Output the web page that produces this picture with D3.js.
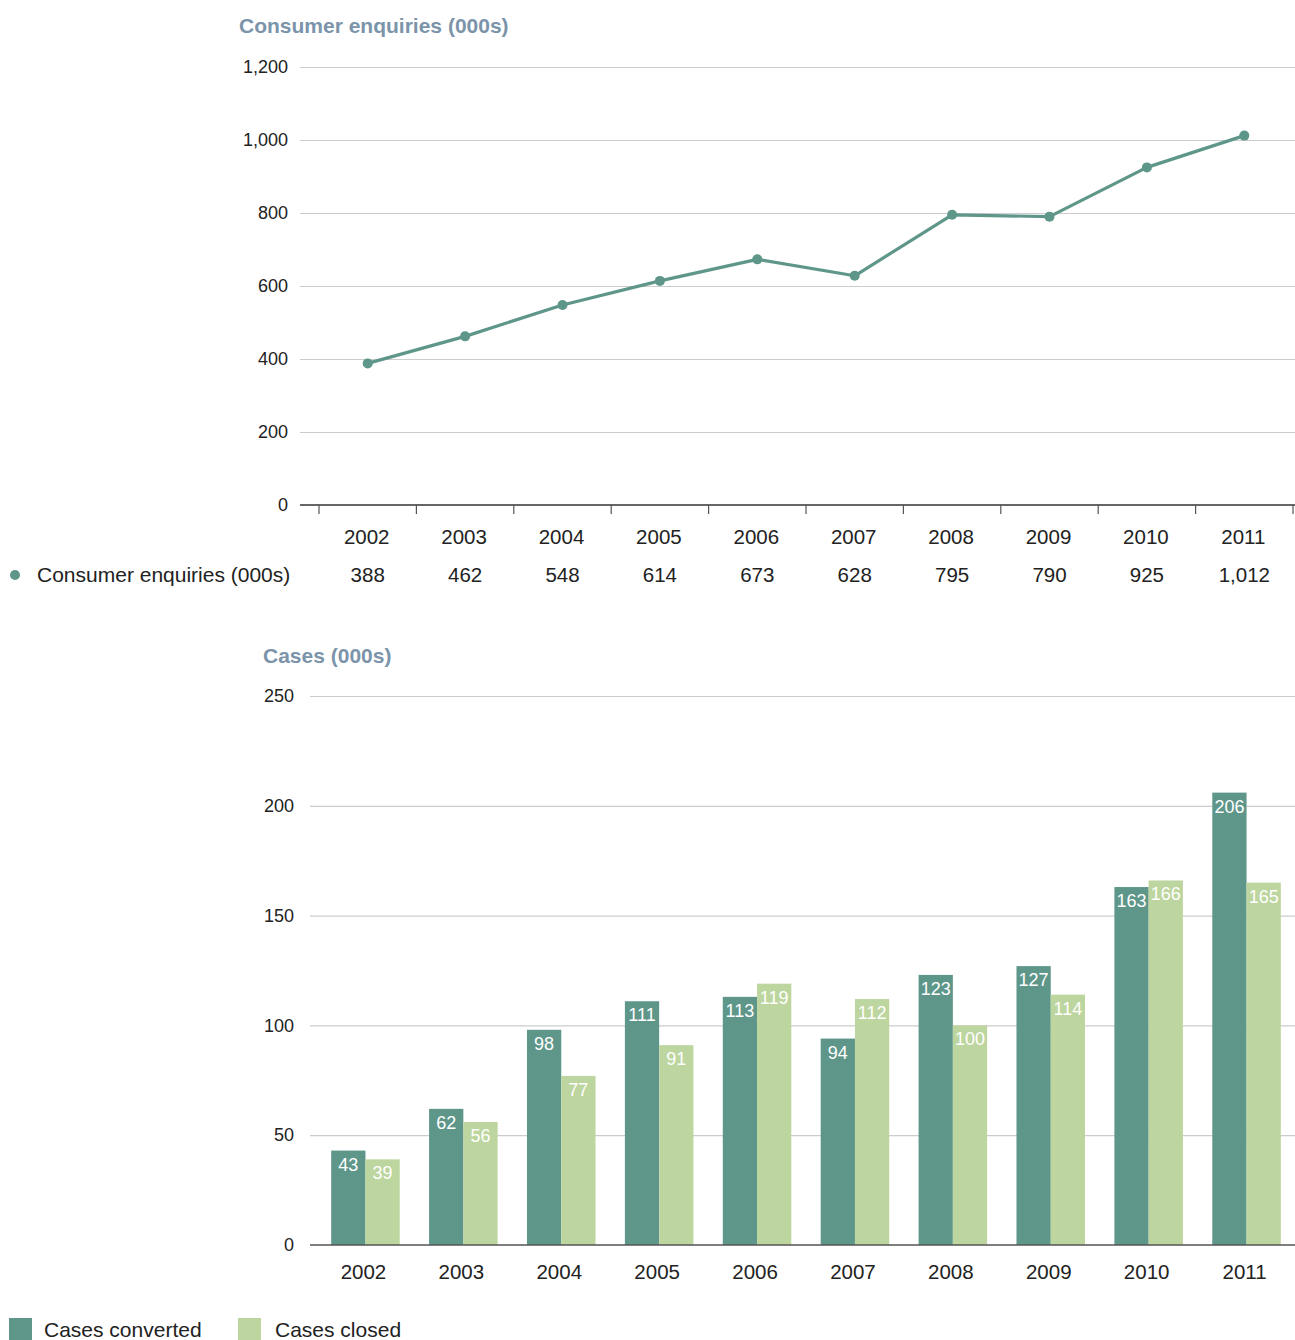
<!DOCTYPE html>
<html>
<head>
<meta charset="utf-8">
<script src="https://cdn.jsdelivr.net/npm/d3@7"></script>
<style>
  html, body { margin: 0; padding: 0; background: #fff; }
  svg { display: block; font-family: "Liberation Sans", Arial, Helvetica, sans-serif; }
</style>
</head>
<body>
<svg id="chart" width="1295" height="1340"></svg>
<script>
// Data
const years = ["2002", "2003", "2004", "2005", "2006", "2007", "2008", "2009", "2010", "2011"];
const enquiries = [388, 462, 548, 614, 673, 628, 795, 790, 925, 1012];
const casesConverted = [43, 62, 98, 111, 113, 94, 123, 127, 163, 206];
const casesClosed = [39, 56, 77, 91, 119, 112, 100, 114, 166, 165];
const enquiryTicks = [0, 200, 400, 600, 800, 1000, 1200];
const caseTicks = [0, 50, 100, 150, 200, 250];

const DARK = "#5e968a";
const LIGHT = "#bdd59e";
const TITLE = "#7b94aa";
const GRID = "#cccccc";
const TEXT = "#222";

const svg = d3.select("#chart");
const fmt = d3.format(",");

// ---------- Consumer enquiries line chart ----------
const gTop = svg.append("g");
const x1 = d3.scaleBand().domain(years).range([319, 1293]);
const y1 = d3.scaleLinear().domain([0, 1200]).range([505, 67]);

gTop.append("text")
  .attr("x", 239).attr("y", 33)
  .attr("fill", TITLE).attr("font-size", 21).attr("font-weight", "bold")
  .text("Consumer enquiries (000s)");

// gridlines + y labels
const yAx1 = d3.axisLeft(y1).tickValues(enquiryTicks).tickFormat(fmt)
  .tickSize(-(1295 - 300)).tickPadding(12);
const gy1 = gTop.append("g").attr("transform", "translate(300,0)").call(yAx1);
gy1.select(".domain").remove();
gy1.selectAll(".tick line").attr("stroke", GRID).attr("stroke-width", 1.2);
gy1.selectAll(".tick text").attr("font-size", 18).attr("fill", TEXT).attr("font-family", null);
gy1.selectAll(".tick").filter(d => d === 0).select("line").remove();

// baseline and band-boundary ticks
gTop.append("line").attr("x1", 300).attr("x2", 1295)
  .attr("y1", y1(0)).attr("y2", y1(0)).attr("stroke", "#333").attr("stroke-width", 1.3);
const bounds = years.map(d => x1(d)).concat([x1.range()[1]]);
gTop.selectAll(".btick").data(bounds).join("line")
  .attr("x1", d => d).attr("x2", d => d)
  .attr("y1", y1(0)).attr("y2", y1(0) + 9)
  .attr("stroke", "#555").attr("stroke-width", 1.2);

// line and points
const cx = d => x1(d) + x1.bandwidth() / 2;
gTop.append("path")
  .datum(enquiries)
  .attr("fill", "none").attr("stroke", DARK).attr("stroke-width", 3.2)
  .attr("stroke-linejoin", "round")
  .attr("d", d3.line().x((d, i) => cx(years[i])).y(d => y1(d)));
gTop.selectAll(".pt").data(enquiries).join("circle")
  .attr("cx", (d, i) => cx(years[i])).attr("cy", d => y1(d)).attr("r", 5)
  .attr("fill", DARK);

// data table
gTop.selectAll(".yr").data(years).join("text")
  .attr("x", d => cx(d) - 1).attr("y", 544)
  .attr("text-anchor", "middle").attr("font-size", 20.5).attr("fill", TEXT)
  .text(d => d);
gTop.selectAll(".val").data(enquiries).join("text")
  .attr("x", (d, i) => cx(years[i])).attr("y", 582)
  .attr("text-anchor", "middle").attr("font-size", 20.5).attr("fill", TEXT)
  .text(d => fmt(d));
gTop.append("circle").attr("cx", 15).attr("cy", 575).attr("r", 5).attr("fill", DARK);
gTop.append("text").attr("x", 37).attr("y", 582)
  .attr("font-size", 21).attr("fill", TEXT)
  .text("Consumer enquiries (000s)");

// ---------- Cases bar chart ----------
const gBot = svg.append("g");
const x2 = d3.scaleBand().domain(years).range([316.5, 1295.5])
  .paddingInner(0.3).paddingOuter(0.15);
const xs = d3.scaleBand().domain(["converted", "closed"]).range([0, x2.bandwidth()]);
const y2 = d3.scaleLinear().domain([0, 250]).range([1245, 696]);

gBot.append("text")
  .attr("x", 263).attr("y", 663)
  .attr("fill", TITLE).attr("font-size", 21).attr("font-weight", "bold")
  .text("Cases (000s)");

const yAx2 = d3.axisLeft(y2).tickValues(caseTicks)
  .tickSize(-(1295 - 310)).tickPadding(16);
const gy2 = gBot.append("g").attr("transform", "translate(310,0)").call(yAx2);
gy2.select(".domain").remove();
gy2.selectAll(".tick line").attr("stroke", GRID).attr("stroke-width", 1.2);
gy2.selectAll(".tick text").attr("font-size", 18).attr("fill", TEXT).attr("font-family", null);
gy2.selectAll(".tick").filter(d => d === 0).select("line").remove();

const series = [
  { key: "converted", values: casesConverted, color: DARK },
  { key: "closed", values: casesClosed, color: LIGHT }
];
series.forEach(s => {
  const g = gBot.append("g");
  g.selectAll("rect").data(s.values).join("rect")
    .attr("x", (d, i) => x2(years[i]) + xs(s.key))
    .attr("y", d => y2(d))
    .attr("width", xs.bandwidth())
    .attr("height", d => y2(0) - y2(d))
    .attr("fill", s.color);
  g.selectAll("text").data(s.values).join("text")
    .attr("x", (d, i) => x2(years[i]) + xs(s.key) + xs.bandwidth() / 2)
    .attr("y", d => y2(d) + 20)
    .attr("text-anchor", "middle").attr("font-size", 18).attr("fill", "#fff")
    .text(d => d);
});

gBot.append("line").attr("x1", 310).attr("x2", 1295)
  .attr("y1", y2(0)).attr("y2", y2(0)).attr("stroke", "#555").attr("stroke-width", 1.5);

gBot.selectAll(".yr2").data(years).join("text")
  .attr("x", d => x2(d) + x2.bandwidth() / 2 - 2).attr("y", 1279)
  .attr("text-anchor", "middle").attr("font-size", 20.5).attr("fill", TEXT)
  .text(d => d);

// legend
const legend = [
  { label: "Cases converted", color: DARK, x: 9 },
  { label: "Cases closed", color: LIGHT, x: 238 }
];
const lg = gBot.selectAll(".lg").data(legend).join("g")
  .attr("transform", d => `translate(${d.x},1318)`);
lg.append("rect").attr("width", 23).attr("height", 22).attr("fill", d => d.color);
lg.append("text").attr("x", d => d.x === 9 ? 35 : 37).attr("y", 19)
  .attr("font-size", 21).attr("fill", TEXT).text(d => d.label);
</script>
</body>
</html>
